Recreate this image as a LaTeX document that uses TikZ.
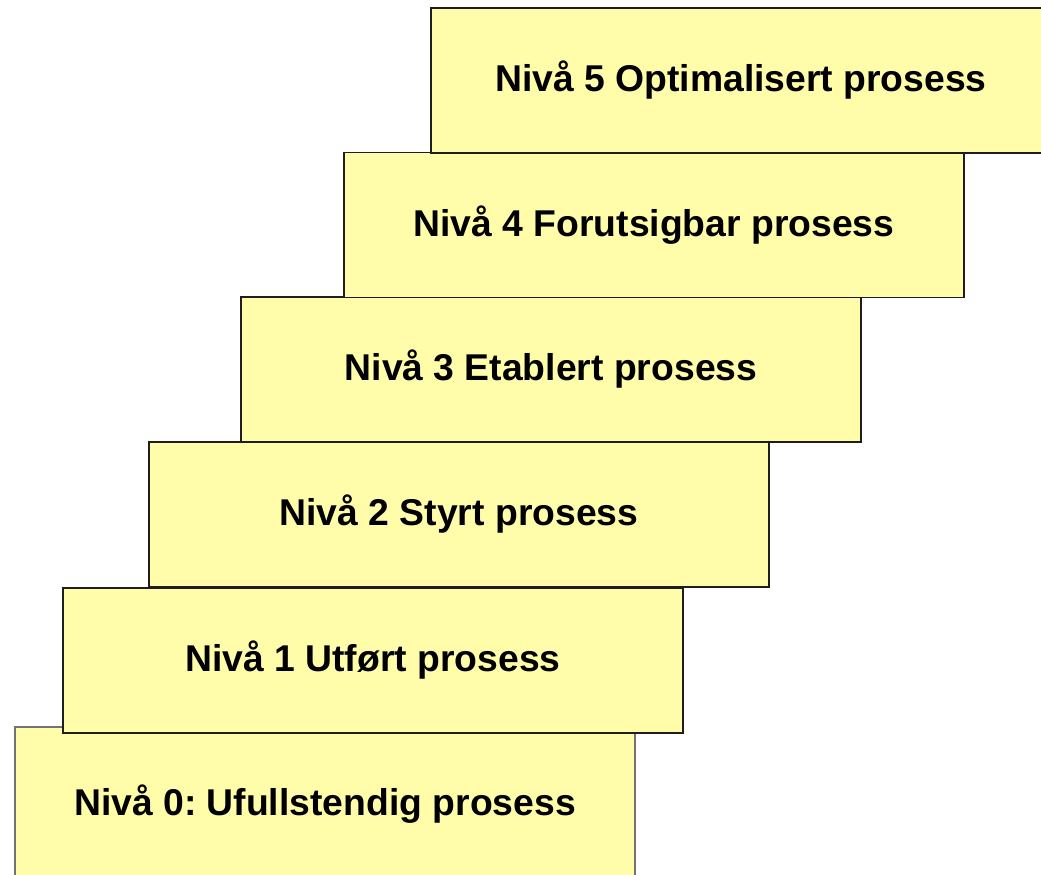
\documentclass[tikz,border=0pt]{standalone}
\usepackage{fontspec}
\setmainfont{Liberation Sans}
\frenchspacing
\definecolor{stepfill}{RGB}{255,252,170}
\definecolor{stepedge}{RGB}{30,30,30}
\begin{document}
\begin{tikzpicture}[x=1pt,y=-1pt,
  level/.style={draw=stepedge, line width=1.6pt, fill=stepfill,
    rectangle, minimum width=620pt, minimum height=145pt, inner sep=0pt,
    font=\fontsize{37.3}{44}\selectfont\bfseries}]
  \useasboundingbox (0,0) rectangle (1041,875);
  \clip (0,0) rectangle (1041,875);
  % staircase of levels, bottom step first so each higher step lies on top
  \node[level, minimum height=154pt, draw=black!55] (l0) at (325,804) {Nivå 0: Ufullstendig prosess};
  \node[level] (l1) at (373,660.5) {Nivå 1 Utført prosess};
  \node[level] (l2) at (459,514.5) {Nivå 2 Styrt prosess};
  \node[level] (l3) at (551,369.5) {Nivå 3 Etablert prosess};
  \node[level] (l4) at (654,225) {Nivå 4 Forutsigbar prosess};
  \node[level] (l5) at (741,80.5) {Nivå 5 Optimalisert prosess};
\end{tikzpicture}
\end{document}
